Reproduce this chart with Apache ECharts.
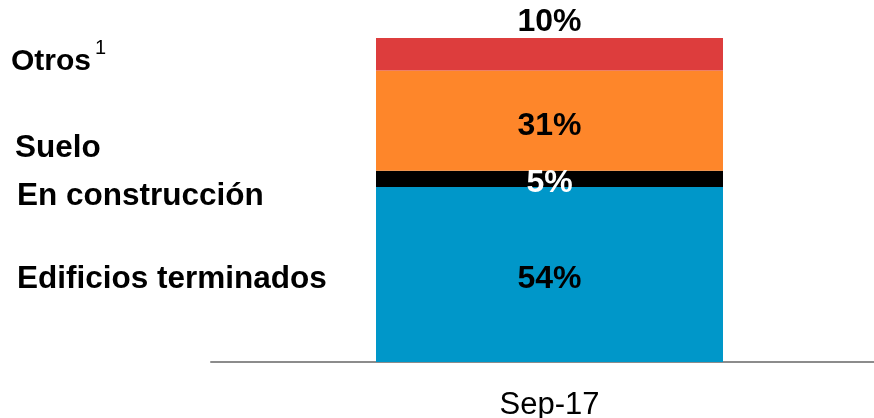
<!DOCTYPE html>
<html>
<head>
<meta charset="utf-8">
<script src="https://cdn.jsdelivr.net/npm/echarts@6/dist/echarts.min.js"></script>
<style>
  html, body { margin: 0; padding: 0; background: #fff; }
  #chart { width: 874px; height: 418px; }
</style>
</head>
<body>
<div id="chart"></div>
<script>
// Portfolio breakdown by asset type (percent of total)
var categories = ['Sep-17'];
var edificiosTerminados = [54];
var enConstruccion = [5];
var suelo = [31];
var otros = [10];
var seriesNames = ['Edificios terminados', 'En construcción', 'Suelo', 'Otros'];

var FONT = '"Liberation Sans", Arial, sans-serif';

function pctLabel(color, position, distance, dy) {
  return {
    show: true,
    position: position,
    distance: distance || 0,
    offset: [0, dy || 0],
    formatter: '{c}%',
    color: color,
    fontFamily: FONT,
    fontWeight: 'bold',
    fontSize: 32
  };
}

var chart = echarts.init(document.getElementById('chart'));
chart.setOption({
  animation: false,
  backgroundColor: '#ffffff',
  grid: { left: 211, right: -14, top: 38, bottom: 56, containLabel: false, outerBoundsMode: 'none' },
  xAxis: {
    type: 'category',
    data: categories,
    axisLine: { show: true, lineStyle: { color: '#8c8c8c', width: 2 } },
    axisTick: { show: false },
    axisLabel: { color: '#000', fontFamily: FONT, fontSize: 31, margin: 28 }
  },
  yAxis: {
    type: 'value',
    min: 0,
    max: 100,
    show: false,
    splitLine: { show: false }
  },
  series: [
    {
      name: seriesNames[0], type: 'bar', stack: 'total', barWidth: 347,
      data: edificiosTerminados,
      itemStyle: { color: '#0097c9' },
      label: pctLabel('#000', 'inside', 0, 5)
    },
    {
      name: seriesNames[1], type: 'bar', stack: 'total',
      data: enConstruccion,
      itemStyle: { color: '#000000' },
      label: pctLabel('#fff', 'inside', 0, 4)
    },
    {
      name: seriesNames[2], type: 'bar', stack: 'total',
      data: suelo,
      itemStyle: { color: '#fe862a' },
      label: pctLabel('#000', 'inside', 0, 6)
    },
    {
      name: seriesNames[3], type: 'bar', stack: 'total',
      data: otros,
      itemStyle: { color: '#dd3d3d' },
      label: pctLabel('#000', 'top', 0, 0)
    }
  ],
  graphic: [
    { type: 'text', left: 11, top: 47, style: { text: 'Otros', font: 'bold 30px ' + FONT, fill: '#000' } },
    { type: 'text', left: 95, top: 38, style: { text: '1', font: '20px ' + FONT, fill: '#000' } },
    { type: 'text', left: 15, top: 132, style: { text: seriesNames[2], font: 'bold 31.5px ' + FONT, fill: '#000' } },
    { type: 'text', left: 17, top: 180, style: { text: seriesNames[1], font: 'bold 31.5px ' + FONT, fill: '#000' } },
    { type: 'text', left: 17, top: 263, style: { text: seriesNames[0], font: 'bold 31.5px ' + FONT, fill: '#000' } }
  ]
});
</script>
</body>
</html>
